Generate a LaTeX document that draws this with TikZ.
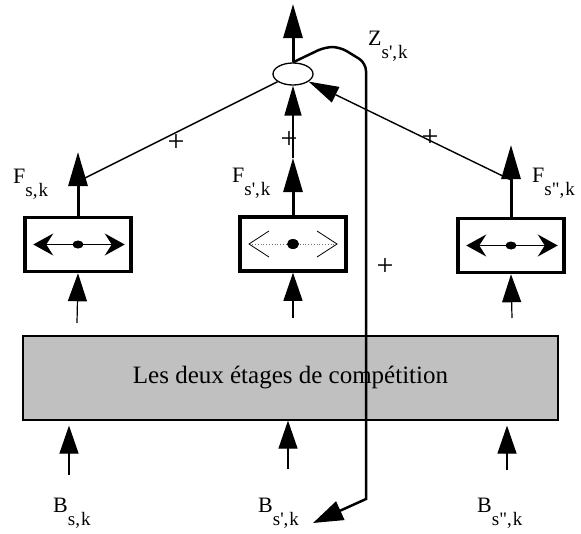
\documentclass[tikz,border=0pt]{standalone}
\usepackage{fontspec}
\setmainfont{Liberation Serif}
\usetikzlibrary{arrows.meta, shapes.geometric}
\definecolor{GrisEtage}{RGB}{192,192,192}
\definecolor{GrisTrait}{RGB}{110,110,110}
\newcommand{\indice}[1]{\raisebox{-13pt}{\fontsize{19}{19}\selectfont #1}}
\newcommand{\prim}{\textquotesingle}
\newcommand{\second}{\textquotedbl}

\begin{document}
\begin{tikzpicture}[
  x=1pt, y=-1pt,
  font=\fontsize{22}{24}\selectfont,
  >={Triangle[length=34pt, width=19pt]},
  filtre/.style={draw, line width=3.5pt, minimum width=106pt, minimum height=54pt, inner sep=0pt},
  etages/.style={draw, line width=1.2pt, fill=GrisEtage, minimum width=535pt, minimum height=84pt,
    inner sep=0pt, font=\fontsize{25}{28}\selectfont},
  somme/.style={ellipse, draw, line width=1.3pt, minimum width=40pt, minimum height=22pt, inner sep=0pt},
  pastille/.style={ellipse, fill=black, minimum width=11pt, minimum height=8pt, inner sep=0pt},
  etiquette/.style={anchor=base west, inner sep=0pt},
  signe/.style={font=\fontsize{30}{30}\selectfont, inner sep=0pt},
  epaisse/.style={->, line width=3pt},
  mince/.style={->, line width=1.4pt, >={Triangle[length=30pt, width=17pt]}},
  entree/.style={->, line width=1.2pt, >={Triangle[length=28pt, width=19pt]}},
  choix/.style={<->, line width=1.2pt, >={Stealth[length=20pt, width=22pt, inset=7pt]},
    shorten <=10pt, shorten >=8pt},
  choixgris/.style={<->, GrisTrait, line width=0.8pt, dotted,
    >={Straight Barb[length=20pt, width=26pt, black]}, shorten <=10pt, shorten >=10pt},
]
\useasboundingbox (0,0) rectangle (581,533);

% --- Sommateur et sortie ---
\node[somme] (som) at (293,74) {};
\coordinate (sortie) at (293,4);
\draw[epaisse] (som) -- (sortie);

% --- Les trois filtres ---
\node[filtre] (f1) at (78,244.5) {};
\node[filtre] (f2) at (293,244) {};
\node[filtre] (f3) at (511,245.5) {};

\draw[choix] (f1.west) -- (f1.east);
\draw[choixgris] (f2.west) -- (f2.east);
\draw[choix] (f3.west) -- (f3.east);
\node[pastille] (c1) at (f1) {};
\node[pastille, minimum width=12pt, minimum height=10pt] (c2) at (f2) {};
\node[pastille] (c3) at (f3) {};

% --- Sorties F vers le sommateur ---
\coordinate (s1) at (78,152);
\coordinate (s2) at (293,158);
\coordinate (s3) at (511,145);
\coordinate (j1) at (83,179);
\coordinate (j3) at (511,180);
\draw[epaisse] (f1.north) -- (s1);
\draw[epaisse] (f2.north) -- (s2);
\draw[epaisse] (f3.north) -- (s3);
\draw[line width=1.4pt] (j1) -- (som);
\draw[mince] (s2) -- (som);
\draw[mince] (j3) -- (som);

% --- Entrées des filtres ---
\coordinate (e1) at (77,323);
\coordinate (e2) at (293,318);
\coordinate (e3) at (512,318);
\draw[entree] (e1) -- (f1.south);
\draw[entree] (e2) -- (f2.south);
\draw[entree] (e3) -- (f3.south);

% --- Bloc de compétition ---
\node[etages] (comp) at (290.5,378) {Les deux étages de compétition};
\coordinate (b1) at (69,475);
\coordinate (b2) at (288,469);
\coordinate (b3) at (507,470);
\draw[entree, shorten >=5pt] (b1) -- (b1 |- comp.south);
\draw[entree] (b2) -- (b2 |- comp.south);
\draw[entree, shorten >=5pt] (b3) -- (b3 |- comp.south);

% --- Retour Z ---
\coordinate (fin) at (313,523);
\draw[epaisse, line width=2.5pt, >={Triangle[length=30pt, width=20pt]}]
  (som.north) [rounded corners=8pt] -- (325,47) -- (340,47) -- (366,63) [sharp corners] -- (366,499) -- (fin);

% --- Etiquettes ---
\node[etiquette] (lz) at (368,45) {Z\indice{s\prim,\kern1pt k}};
\node[etiquette] (lf1) at (13,183) {F\indice{s,\kern1pt k}};
\node[etiquette] (lf2) at (232,182) {F\indice{s\prim,\kern1pt k}};
\node[etiquette] (lf3) at (532,182) {F\indice{s\second,\kern1pt k}};
\node[etiquette] (lb1) at (53,512) {B\indice{s,\kern1pt k}};
\node[etiquette] (lb2) at (258,512) {B\indice{s\prim,\kern1pt k}};
\node[etiquette] (lb3) at (477,512) {B\indice{s\second,\kern1pt k}};

\node[signe] (pl1) at (176,143) {+};
\node[signe] (pl2) at (289,140) {+};
\node[signe] (pl3) at (430,138) {+};
\node[signe] (pl4) at (385,267) {+};

\end{tikzpicture}
\end{document}
